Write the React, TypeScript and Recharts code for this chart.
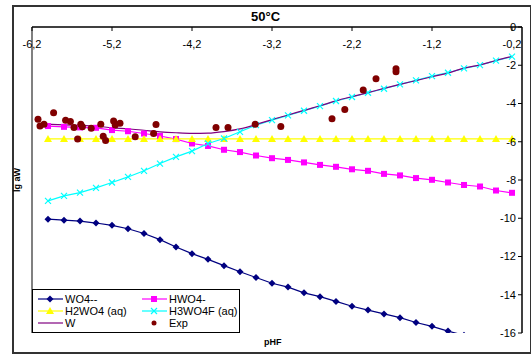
import React from "react";
import {
    ComposedChart,
    Line,
    Scatter,
    XAxis,
    YAxis,
    ReferenceLine,
} from "recharts";

// pHF grid of the model curves
const PHF = [
    -6.0, -5.8, -5.6, -5.4, -5.2, -5.0, -4.8, -4.6, -4.4, -4.2, -4.0, -3.8,
    -3.6, -3.4, -3.2, -3.0, -2.8, -2.6, -2.4, -2.2, -2.0, -1.8, -1.6, -1.4,
    -1.2, -1.0, -0.8, -0.6, -0.4, -0.2,
];

const WO4 = [
    -10.05, -10.1, -10.15, -10.25, -10.37, -10.55, -10.8, -11.12, -11.5,
    -11.85, -12.15, -12.48, -12.8, -13.1, -13.4, -13.6, -13.9, -14.1, -14.35,
    -14.6, -14.8, -15.0, -15.2, -15.45, -15.65, -15.9, -16.12, -16.35, -16.55,
    -16.8,
];
const HWO4 = [
    -5.18, -5.22, -5.25, -5.27, -5.39, -5.45, -5.57, -5.7, -5.86, -6.09, -6.22,
    -6.42, -6.54, -6.72, -6.86, -6.95, -7.08, -7.21, -7.31, -7.44, -7.52,
    -7.68, -7.76, -7.9, -7.99, -8.13, -8.26, -8.34, -8.55, -8.67,
];
const H2WO4 = [
    -5.85, -5.85, -5.85, -5.85, -5.85, -5.85, -5.85, -5.85, -5.85, -5.85,
    -5.85, -5.85, -5.85, -5.85, -5.85, -5.85, -5.85, -5.85, -5.85, -5.85,
    -5.85, -5.85, -5.85, -5.85, -5.85, -5.85, -5.85, -5.85, -5.85, -5.85,
];
const H3WO4F = [
    -9.09, -8.83, -8.66, -8.41, -8.13, -7.84, -7.52, -7.14, -6.79, -6.49,
    -6.09, -5.83, -5.48, -5.13, -4.87, -4.62, -4.38, -4.14, -3.87, -3.66,
    -3.44, -3.23, -3.0, -2.79, -2.57, -2.39, -2.16, -1.99, -1.76, -1.55,
];
const W = [
    -5.08, -5.12, -5.15, -5.18, -5.27, -5.32, -5.4, -5.48, -5.53, -5.56, -5.55,
    -5.47, -5.33, -5.1, -4.84, -4.6, -4.36, -4.12, -3.86, -3.64, -3.43, -3.21,
    -3.0, -2.8, -2.6, -2.41, -2.15, -1.98, -1.75, -1.54,
];

// experimental points
const EXP_X = [
    -6.125, -6.1, -6.05, -5.93, -5.78, -5.72, -5.675, -5.63, -5.59, -5.57,
    -5.46, -5.34, -5.31, -5.28, -5.18, -5.16, -5.1, -4.91, -4.68, -4.65, -3.9,
    -3.75, -3.41, -3.09, -2.45, -2.29, -2.06, -1.9, -1.65, -1.65,
];
const EXP_Y = [
    -4.82, -5.17, -5.08, -4.49, -4.88, -4.94, -5.25, -5.86, -5.09, -5.22,
    -5.29, -5.09, -5.71, -5.93, -4.91, -5.12, -5.03, -5.74, -5.57, -5.1, -5.25,
    -5.25, -5.09, -5.2, -4.8, -4.31, -3.3, -2.71, -2.18, -2.34,
];

const X_TICKS = [-6.2, -5.2, -4.2, -3.2, -2.2, -1.2, -0.2];
const Y_TICKS = [-16, -14, -12, -10, -8, -6, -4, -2, 0];

const toRows = (ys: number[]) => PHF.map((x, i) => ({ x, y: ys[i] }));
const expRows = EXP_X.map((x, i) => ({ x, y: EXP_Y[i] }));

const fmt = (v: number) =>
    v === 0 ? "0" : Number.isInteger(v) ? String(v) : v.toFixed(1).replace(".", ",");

const Diamond = (p: any) => {
    const { cx, cy } = p;
    if (cx == null || cy == null) return <g key={p.key} />;
    return (
        <polygon
            key={p.key}
            points={`${cx},${cy - 3.5} ${cx + 3.5},${cy} ${cx},${cy + 3.5} ${cx - 3.5},${cy}`}
            fill="#000080"
        />
    );
};
const Square = (p: any) => {
    const { cx, cy } = p;
    if (cx == null || cy == null) return <g key={p.key} />;
    return <rect key={p.key} x={cx - 3} y={cy - 3} width={6} height={6} fill="#FF00FF" />;
};
const Triangle = (p: any) => {
    const { cx, cy } = p;
    if (cx == null || cy == null) return <g key={p.key} />;
    return (
        <polygon
            key={p.key}
            points={`${cx},${cy - 4} ${cx + 4},${cy + 3} ${cx - 4},${cy + 3}`}
            fill="#FFFF00"
        />
    );
};
const Cross = (p: any) => {
    const { cx, cy } = p;
    if (cx == null || cy == null) return <g key={p.key} />;
    return (
        <path
            key={p.key}
            d={`M${cx - 3},${cy - 3}L${cx + 3},${cy + 3}M${cx - 3},${cy + 3}L${cx + 3},${cy - 3}`}
            stroke="#00FFFF"
            strokeWidth={1.2}
        />
    );
};
const Dot = (p: any) => <circle cx={p.cx} cy={p.cy} r={3.5} fill="#800000" />;

const XTick = (p: any) => (
    <text x={p.x} y={p.y + 15} textAnchor="middle" fontSize={11} fill="#000">
        {fmt(p.payload.value)}
    </text>
);

const legendItems = [
    { name: "WO4--", color: "#000080", mark: "diamond", line: true },
    { name: "HWO4-", color: "#FF00FF", mark: "square", line: true },
    { name: "H2WO4 (aq)", color: "#FFFF00", mark: "triangle", line: true },
    { name: "H3WO4F (aq)", color: "#00FFFF", mark: "cross", line: true },
    { name: "W", color: "#800080", mark: "none", line: true },
    { name: "Exp", color: "#800000", mark: "dot", line: false },
];

function LegendIcon({ item }: { item: (typeof legendItems)[number] }) {
    const c = 12;
    return (
        <svg width={25} height={12} style={{ display: "block" }}>
            {item.line && <line x1={0} y1={6} x2={25} y2={6} stroke={item.color} strokeWidth={1.2} />}
            {item.mark === "diamond" && <Diamond cx={c} cy={6} />}
            {item.mark === "square" && <Square cx={c} cy={6} />}
            {item.mark === "triangle" && <Triangle cx={c} cy={6} />}
            {item.mark === "cross" && <Cross cx={c} cy={6} />}
            {item.mark === "dot" && <circle cx={c} cy={6} r={2.5} fill={item.color} />}
        </svg>
    );
}

export default function App() {
    const font = "'Liberation Sans', Arial, sans-serif";
    return (
        <div style={{ position: "absolute", left: 0, top: 0, width: 531, height: 354, background: "#fff", fontFamily: font }}>
            <div
                style={{
                    position: "absolute",
                    left: 12,
                    top: 5,
                    width: 516,
                    height: 345,
                    border: "2px solid #333",
                }}
            />
            <div style={{ position: "absolute", left: 0, top: 0 }}>
                <ComposedChart
                    width={531}
                    height={354}
                    margin={{ top: 27, right: 9, bottom: 21, left: 32 }}
                    style={{ fontFamily: font }}
                >
                    <XAxis
                        type="number"
                        dataKey="x"
                        orientation="top"
                        mirror
                        domain={[-6.2, -0.075]}
                        ticks={X_TICKS}
                        tickFormatter={fmt}
                        allowDataOverflow
                        axisLine={{ stroke: "#000", strokeWidth: 1.5 }}
                        tickLine={{ stroke: "#000" }}
                        tickSize={4}
                        tick={XTick}
                    />
                    <YAxis
                        type="number"
                        dataKey="y"
                        orientation="right"
                        mirror
                        domain={[-16, 0]}
                        ticks={Y_TICKS}
                        tickFormatter={fmt}
                        allowDataOverflow
                        axisLine={{ stroke: "#000", strokeWidth: 1.5 }}
                        tickLine={{ stroke: "#000" }}
                        tickSize={4}
                        tick={{ fill: "#000", fontSize: 11 }}
                    />
                    <ReferenceLine x={-6.2} stroke="#808080" strokeWidth={2} />
                    <Line data={toRows(WO4)} dataKey="y" stroke="#000080" strokeWidth={1.2} dot={Diamond} isAnimationActive={false} />
                    <Line data={toRows(HWO4)} dataKey="y" stroke="#FF00FF" strokeWidth={1.2} dot={Square} isAnimationActive={false} />
                    <Line data={toRows(H2WO4)} dataKey="y" stroke="#FFFF00" strokeWidth={1.2} dot={Triangle} isAnimationActive={false} />
                    <Line data={toRows(H3WO4F)} dataKey="y" stroke="#00FFFF" strokeWidth={1.2} dot={Cross} isAnimationActive={false} />
                    <Line data={toRows(W)} dataKey="y" type="monotone" stroke="#800080" strokeWidth={1.2} dot={false} isAnimationActive={false} />
                    <Scatter data={expRows} dataKey="y" shape={Dot} isAnimationActive={false} />
                </ComposedChart>
            </div>
            <div style={{ position: "absolute", left: 0, width: 531, top: 9, textAlign: "center", fontSize: 13, fontWeight: "bold" }}>
                50°C
            </div>
            <div
                style={{
                    position: "absolute",
                    left: 17,
                    top: 180,
                    transform: "translate(-50%, -50%) rotate(-90deg)",
                    fontSize: 9,
                    fontWeight: "bold",
                    whiteSpace: "nowrap",
                }}
            >
                lg aW
            </div>
            <div style={{ position: "absolute", left: 264, top: 337, fontSize: 9, fontWeight: "bold" }}>pHF</div>
            <div
                style={{
                    position: "absolute",
                    left: 32,
                    top: 289,
                    width: 206,
                    height: 42,
                    border: "1px solid #000",
                    background: "#fff",
                    fontSize: 11,
                    display: "grid",
                    gridTemplateColumns: "104px 102px",
                    alignContent: "center",
                    rowGap: 0,
                }}
            >
                {legendItems.map((item) => (
                    <div key={item.name} style={{ display: "flex", alignItems: "center", height: 12, paddingLeft: 5 }}>
                        <LegendIcon item={item} />
                        <span style={{ marginLeft: 2 }}>{item.name}</span>
                    </div>
                ))}
            </div>
        </div>
    );
}
